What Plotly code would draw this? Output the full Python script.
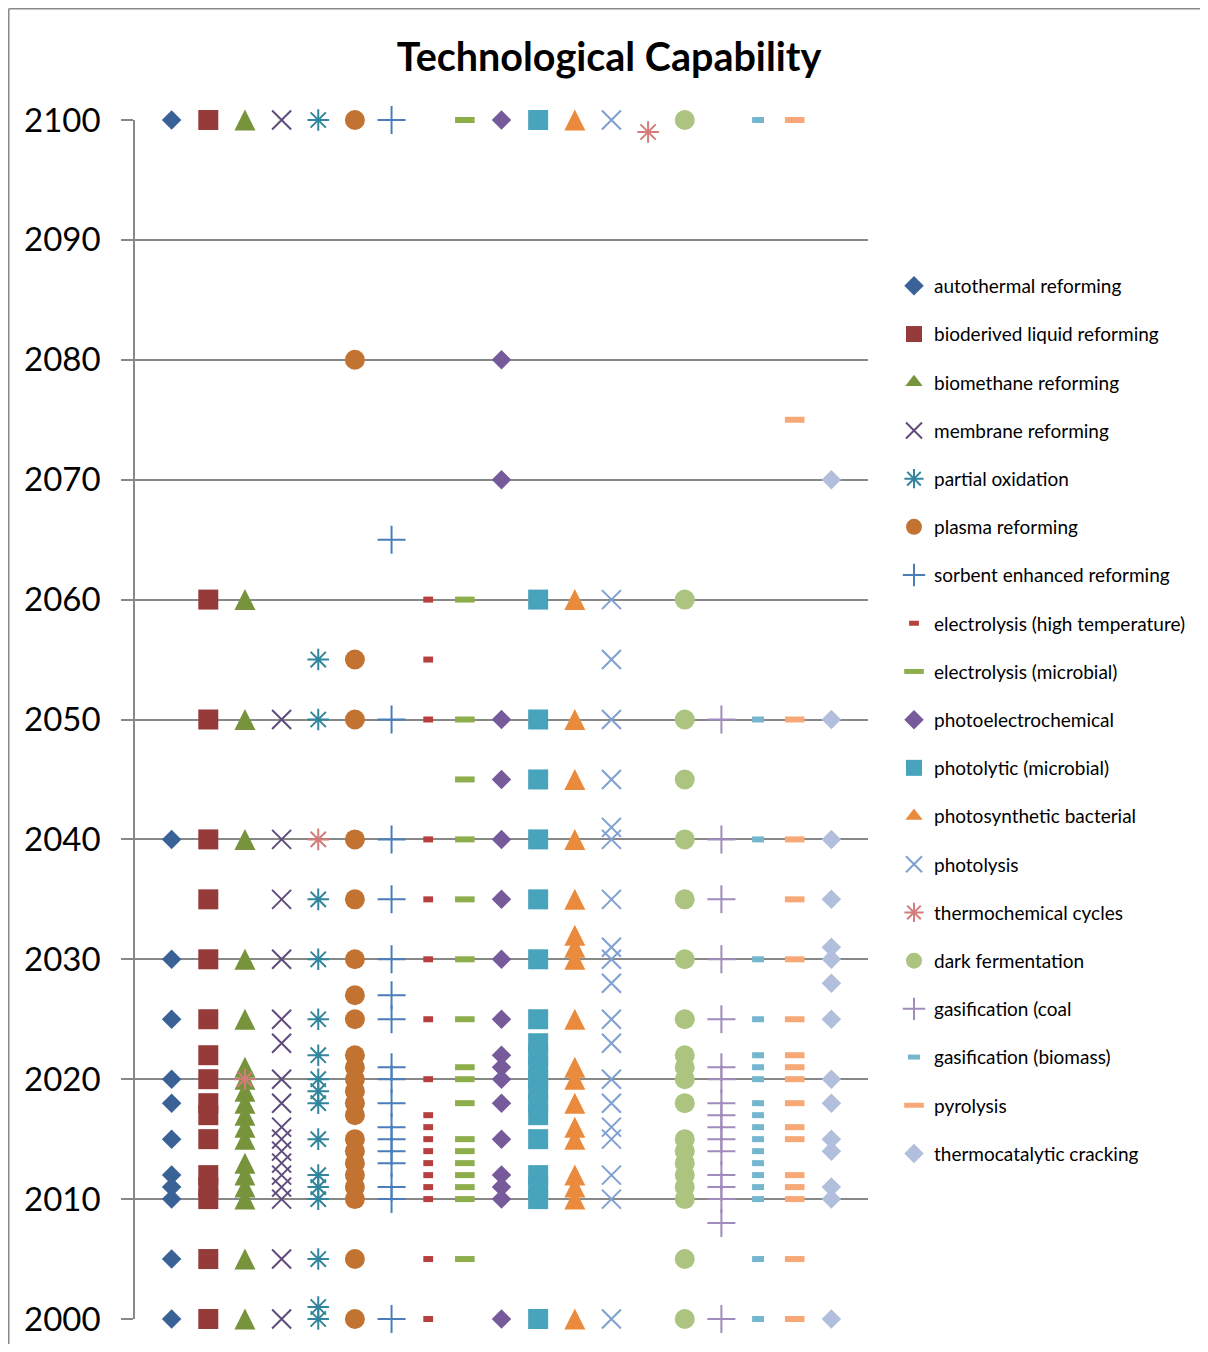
import plotly.graph_objects as go

names = ["autothermal reforming", "bioderived liquid reforming", "biomethane reforming",
         "membrane reforming", "partial oxidation", "plasma reforming",
         "sorbent enhanced reforming", "electrolysis (high temperature)",
         "electrolysis (microbial)", "photoelectrochemical", "photolytic (microbial)",
         "photosynthetic bacterial", "photolysis", "thermochemical cycles",
         "dark fermentation", "gasification (coal", "gasification (biomass)",
         "pyrolysis", "thermocatalytic cracking"]

autothermal = [2100, 2040, 2030, 2025, 2020, 2018, 2015, 2012, 2011, 2010, 2005, 2000]
bioderived = [2100, 2060, 2050, 2040, 2035, 2030, 2025, 2022, 2020, 2018, 2017, 2015, 2012, 2011, 2010, 2005, 2000]
biomethane = [2100, 2060, 2050, 2040, 2030, 2025, 2021, 2020, 2019, 2018, 2017, 2016, 2015, 2013, 2012, 2011, 2010, 2005, 2000]
membrane = [2100, 2050, 2040, 2035, 2030, 2025, 2023, 2020, 2018, 2016, 2015, 2014, 2013, 2012, 2011, 2010, 2005, 2000]
partial_ox = [2100, 2055, 2050, 2035, 2030, 2025, 2022, 2020, 2019, 2018, 2015, 2012, 2011, 2010, 2005, 2001, 2000]
plasma = [2100, 2080, 2055, 2050, 2040, 2035, 2030, 2027, 2025, 2022, 2021, 2020, 2019, 2018, 2017, 2015, 2014, 2013, 2012, 2011, 2010, 2005, 2000]
sorbent = [2100, 2065, 2050, 2040, 2035, 2030, 2027, 2025, 2021, 2020, 2018, 2016, 2015, 2014, 2013, 2011, 2010, 2000]
elec_high = [2060, 2055, 2050, 2040, 2035, 2030, 2025, 2020, 2017, 2016, 2015, 2014, 2013, 2012, 2011, 2010, 2005, 2000]
elec_micro = [2100, 2060, 2050, 2045, 2040, 2035, 2030, 2025, 2021, 2020, 2018, 2015, 2014, 2013, 2012, 2011, 2010, 2005]
photoelectro = [2100, 2080, 2070, 2050, 2045, 2040, 2035, 2030, 2025, 2022, 2021, 2020, 2018, 2015, 2012, 2011, 2010, 2000]
photolytic = [2100, 2060, 2050, 2045, 2040, 2035, 2030, 2025, 2023, 2022, 2021, 2020, 2019, 2018, 2017, 2015, 2012, 2011, 2010, 2000]
photosynth = [2100, 2060, 2050, 2045, 2040, 2035, 2032, 2031, 2030, 2025, 2021, 2020, 2018, 2016, 2015, 2012, 2011, 2010, 2000]
photolysis = [2100, 2060, 2055, 2050, 2045, 2041, 2040, 2035, 2031, 2030, 2028, 2025, 2023, 2020, 2018, 2016, 2015, 2012, 2010, 2000]
thermochem = [2099, 2040, 2020]
thermochem_pos = [14, 5, 3]
dark_ferm = [2100, 2060, 2050, 2045, 2040, 2035, 2030, 2025, 2022, 2021, 2020, 2018, 2015, 2014, 2013, 2012, 2011, 2010, 2005, 2000]
gas_coal = [2050, 2040, 2035, 2030, 2025, 2021, 2020, 2018, 2017, 2016, 2015, 2014, 2012, 2011, 2010, 2008, 2000]
gas_biomass = [2100, 2050, 2040, 2030, 2025, 2022, 2021, 2020, 2018, 2017, 2016, 2015, 2014, 2013, 2012, 2011, 2010, 2005, 2000]
pyrolysis = [2100, 2075, 2050, 2040, 2035, 2030, 2025, 2022, 2021, 2020, 2018, 2016, 2015, 2012, 2011, 2010, 2005, 2000]
thermocat = [2070, 2050, 2040, 2035, 2031, 2030, 2028, 2025, 2020, 2018, 2015, 2014, 2011, 2010, 2000]

series = [autothermal, bioderived, biomethane, membrane, partial_ox, plasma, sorbent,
          elec_high, elec_micro, photoelectro, photolytic, photosynth, photolysis,
          thermochem, dark_ferm, gas_coal, gas_biomass, pyrolysis, thermocat]

y_ticks = [2000, 2010, 2020, 2030, 2040, 2050, 2060, 2070, 2080, 2090, 2100]
Y_MIN, Y_MAX = 2000, 2100

# style: (symbol, size, color, open-style line width)
styles = [
    ("diamond", 15, "#3A6296", 0),
    ("square", 20, "#953B39", 0),
    ("tri", 21, "#77933C", 0),
    ("x-thin-open", 19, "#5F4A7B", 2),
    ("asterisk-open", 18, "#31859C", 2),
    ("circle", 20, "#C27331", 0),
    ("cross-thin-open", 20, "#4A7EBB", 2),
    ("line-ew-open", 7, "#B6403E", 6),
    ("line-ew-open", 14, "#8EAE4C", 6),
    ("diamond", 15, "#775A99", 0),
    ("square", 20, "#48A3BC", 0),
    ("tri", 21, "#EA8A3C", 0),
    ("x-thin-open", 19, "#7F9FD1", 2),
    ("asterisk-open", 18, "#D47B7B", 2),
    ("circle", 20, "#ACC47F", 0),
    ("cross-thin-open", 20, "#A08CBC", 2),
    ("line-ew-open", 8.5, "#74B6CE", 6),
    ("line-ew-open", 14, "#F8A877", 6),
    ("diamond", 15, "#B2BFDC", 0),
]

# figure coordinates (page is offset by 8px body margin)
L, R, T, B = 127, 860, 112, 1311      # main plot box (2000..2100)
EXTRA = 14                            # extra headroom for the triangle axis
T2 = T - EXTRA
W, H = 1192, 1336
pw, ph = R - L, B - T
ph2 = B - T2

def px(xpix):
    return (xpix - L) / pw

def py(ypix):
    return (B - ypix) / ph2

# triangles drawn with the tip-anchored "arrow-up" symbol (equal width/height)
# on a separate axis with the same scale, shifted by half a marker so they sit
# centred on their value
TRI_SIZE = 21
yrs_per_px = (Y_MAX - Y_MIN) / ph
tri_shift = (TRI_SIZE / 2) * yrs_per_px
y2_lo = Y_MIN - tri_shift
y2_hi = y2_lo + ph2 * yrs_per_px

fig = go.Figure()
for i, (nm, ys, st) in enumerate(zip(names, series, styles)):
    sym, sz, col, lw = st
    if i == 13:
        xs = thermochem_pos
    else:
        xs = [i + 1] * len(ys)
    if sym == "tri":
        fig.add_trace(go.Scatter(x=xs, y=ys, mode="markers", name=nm, yaxis="y2",
                                 marker=dict(symbol="arrow-up", size=sz, color=col,
                                             line=dict(width=0)),
                                 cliponaxis=False, legendgroup=f"g{i}", showlegend=False))
        fig.add_trace(go.Scatter(x=[None], y=[None], mode="markers", name=nm,
                                 marker=dict(symbol="triangle-up", size=15, color=col,
                                             line=dict(width=0)),
                                 legendgroup=f"g{i}"))
        continue
    marker = dict(symbol=sym, size=sz, color=col)
    if lw:
        marker["line"] = dict(color=col, width=lw)
    else:
        marker["line"] = dict(width=0)
    fig.add_trace(go.Scatter(x=xs, y=ys, mode="markers", name=nm, marker=marker,
                             yaxis="y3" if i == 13 else "y",
                             cliponaxis=False, legendgroup=f"g{i}"))

fig.update_layout(
    width=W, height=H,
    margin=dict(l=L, r=W - R, t=T2, b=H - B, autoexpand=False),
    paper_bgcolor="white", plot_bgcolor="rgba(0,0,0,0)",
    title=dict(text="<b>Technological Capability</b>", x=601 / W, xanchor="center",
               xref="container", y=1 - 49 / H, yanchor="middle",
               font=dict(family="Lato, Open Sans, sans-serif", size=39.5, color="black")),
    xaxis=dict(range=[0, 20], visible=False, showgrid=False, zeroline=False, fixedrange=True),
    yaxis=dict(range=[Y_MIN, Y_MAX], domain=[0, ph / ph2], tickvals=y_ticks,
               showgrid=True, gridcolor="#888888",
               gridwidth=1.5, zeroline=False, showline=True, linecolor="#888888",
               linewidth=1.5, ticks="outside", ticklen=12, tickcolor="#888888",
               tickwidth=1.5, ticklabelstandoff=14,
               tickfont=dict(family="Lato, Open Sans, sans-serif", size=33, color="black")),
    yaxis2=dict(range=[y2_lo, y2_hi], domain=[0, 1], anchor="x", visible=False,
                showgrid=False, zeroline=False),
    yaxis3=dict(range=[Y_MIN, Y_MAX], domain=[0, ph / ph2], anchor="x", visible=False,
                showgrid=False, zeroline=False),
    legend=dict(x=px(886), xanchor="left", y=py(259), yanchor="top",
                traceorder="grouped", tracegroupgap=20.5, itemwidth=30,
                font=dict(family="Lato, sans-serif", size=19, color="black"),
                bgcolor="rgba(0,0,0,0)"),
    showlegend=True,
)

# chart-area border (left and top edges)
fig.add_shape(type="line", xref="paper", yref="paper", x0=px(0.75), x1=px(0.75), y0=py(0.75), y1=py(1400),
              line=dict(color="#888888", width=1.5))
fig.add_shape(type="line", xref="paper", yref="paper", x0=px(0.75), x1=px(1300), y0=py(0.75), y1=py(0.75),
              line=dict(color="#888888", width=1.5))

fig.write_html("out.html")
